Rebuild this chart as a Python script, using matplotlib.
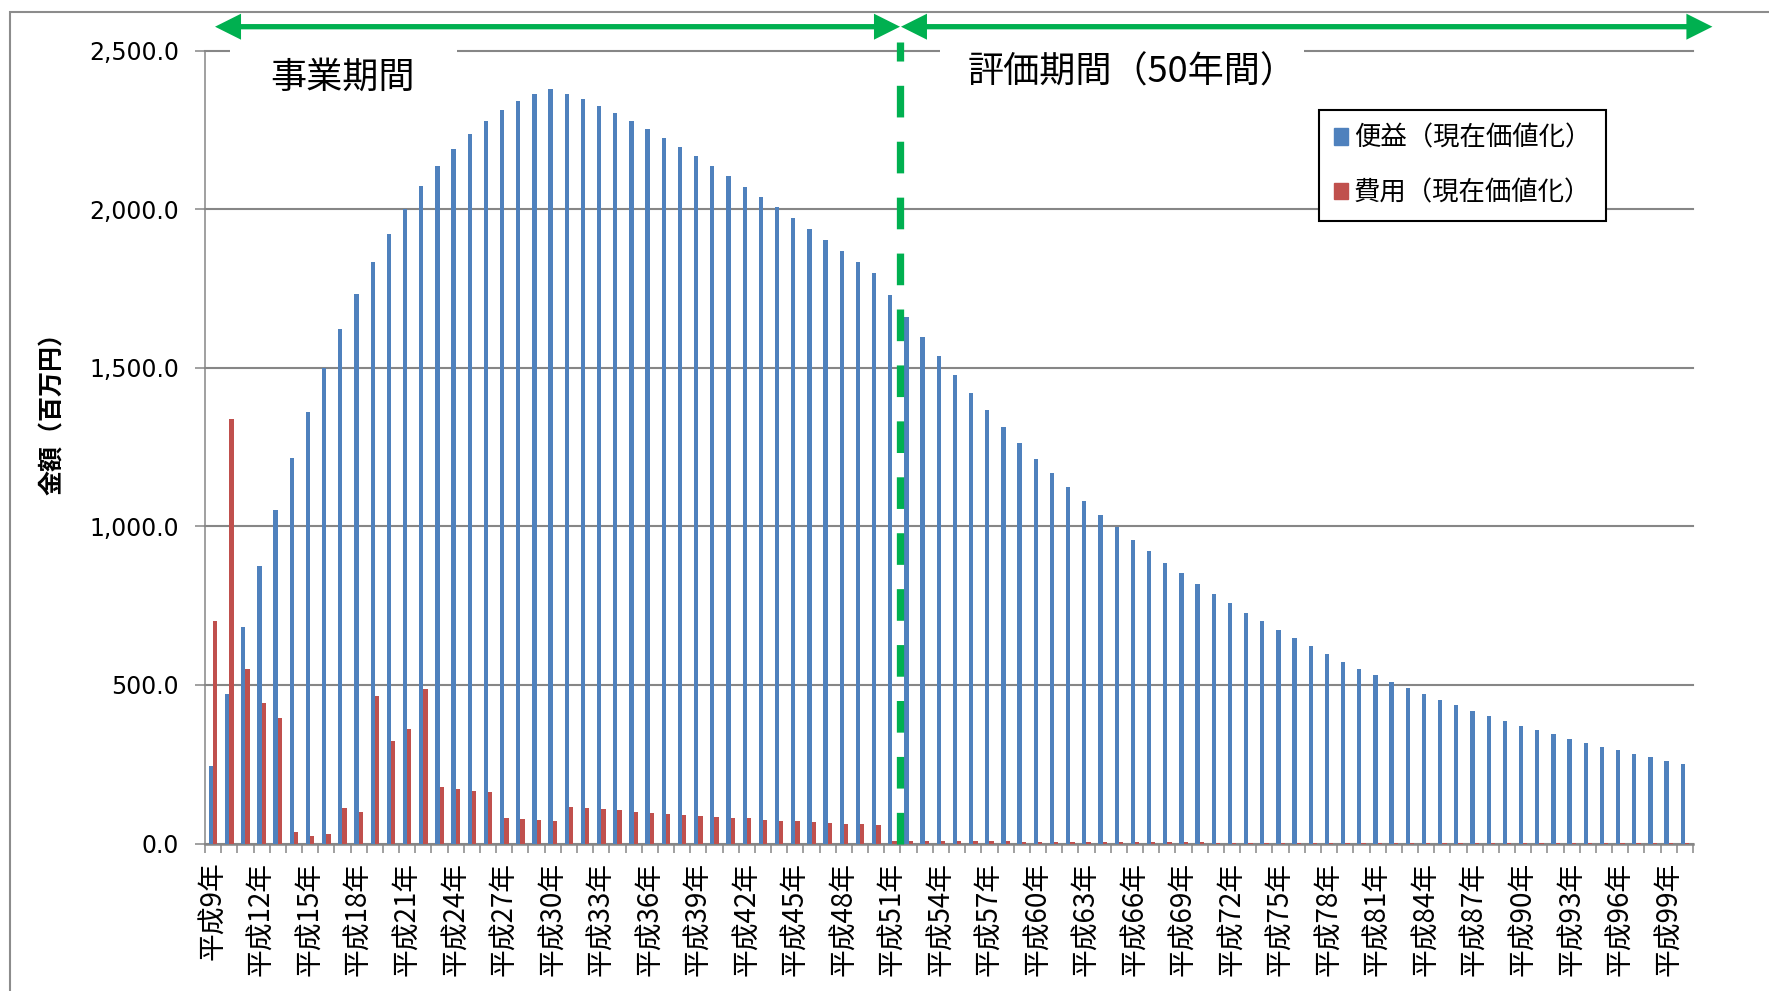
import matplotlib
matplotlib.use("Agg")
import matplotlib.pyplot as plt
from matplotlib.patches import Patch, Rectangle, Polygon
from matplotlib.font_manager import FontProperties
from matplotlib.ticker import FuncFormatter, MultipleLocator
import numpy as np

# ---- data (百万円, 現在価値化) ----
years = list(range(9, 101))
year_labels = [f"平成{y}年" for y in years]

benefit = [244, 471, 681, 875, 1051, 1214, 1361, 1498, 1621, 1732,
           1832, 1922, 2001, 2073, 2136, 2190, 2237, 2278, 2312, 2340,
           2364, 2380, 2364, 2346, 2324, 2302, 2277, 2252, 2223, 2195,
           2166, 2135, 2103, 2071, 2038, 2006, 1971, 1936, 1903, 1868,
           1833, 1799, 1729, 1661, 1598, 1536, 1478, 1421, 1366, 1313,
           1262, 1213, 1167, 1123, 1079, 1037, 997, 958, 921, 885,
           852, 819, 786, 757, 728, 700, 673, 648, 623, 597,
           573, 551, 530, 510, 490, 471, 452, 436, 418, 402,
           386, 371, 358, 344, 329, 317, 305, 294, 282, 272,
           261, 250]

cost = [701, 1337, 549, 442, 395, 35, 24, 30, 113, 99,
        466, 323, 360, 487, 179, 173, 166, 161, 80, 76,
        73, 71, 115, 111, 108, 105, 100, 96, 93, 90,
        86, 84, 81, 79, 74, 72, 70, 67, 64, 62,
        61, 57, 9, 9, 9, 8, 8, 7, 7, 7,
        6, 6, 6, 5, 5, 5, 5, 4, 4, 4,
        4, 4, 3, 3, 3, 3, 3, 3, 3, 3,
        2, 2, 2, 2, 2, 2, 2, 2, 2, 2,
        2, 2, 2, 2, 2, 2, 1, 1, 1, 1,
        1, 1]

series_labels = ["便益（現在価値化）", "費用（現在価値化）"]
y_label = "金額（百万円）"
period_labels = ["事業期間", "評価期間（50年間）"]
# period boundaries on the category axis: start, end of 事業期間, end of 評価期間
period_bounds = [0.12, 42.5, 92.7]

BLUE = "#4F81BD"
RED = "#C0504D"
GREEN = "#00B050"
GRID = "#868686"
CJK = ["Noto Sans CJK JP", "DejaVu Sans"]

W, H, DPI = 1769, 991, 100
fig = plt.figure(figsize=(W / DPI, H / DPI), dpi=DPI)


def fx(x):
    return x / W


def fy(y):
    return 1 - y / H


ax = fig.add_axes([fx(205), fy(843.5), 1488 / W, 793 / H])

x = np.arange(len(years))
bw = 0.265
ax.bar(x - bw / 2, benefit, bw, color=BLUE, zorder=3, linewidth=0)
ax.bar(x + bw / 2, cost, bw, color=RED, zorder=3, linewidth=0)

ax.set_xlim(-0.5, len(years) - 0.5)
ax.set_ylim(0, 2500)

# y axis
ax.yaxis.set_major_locator(MultipleLocator(500))
ax.yaxis.set_major_formatter(FuncFormatter(lambda v, p: f"{v:,.1f}"))
ax.tick_params(axis="y", which="major", length=7.2, width=1.1, color=GRID,
               pad=11.5, labelsize=17, labelcolor="black")
for lab in ax.get_yticklabels():
    lab.set_family("DejaVu Sans")
ax.grid(axis="y", color=GRID, linewidth=1.5, zorder=1)
ax.set_axisbelow(True)
for gl in ax.get_ygridlines():
    gl.set_clip_on(False)

# x axis: labels every third year, tick marks between categories
ax.set_xticks(x[::3])
ax.set_xticklabels(year_labels[::3], rotation=90, fontsize=20, family=CJK)
ax.set_xticks(np.arange(-0.5, len(years), 1), minor=True)
ax.tick_params(axis="x", which="major", length=0, pad=13)
ax.tick_params(axis="x", which="minor", length=6.5, width=1.1, color=GRID)

for side in ("top", "right"):
    ax.spines[side].set_visible(False)
ax.spines["bottom"].set_color(GRID)
ax.spines["bottom"].set_linewidth(1.8)
ax.spines["left"].set_color(GRID)
ax.spines["left"].set_linewidth(1.1)

ax.set_ylabel(y_label, fontsize=18, fontweight="bold", family=CJK)
ax.yaxis.set_label_coords(-0.094, 0.55)

# boundary between the two periods
ax.plot([period_bounds[1]] * 2, [0, 2528], color=GREEN, linewidth=5.25,
        linestyle=(0, (4.34, 3.33)), dash_capstyle="butt",
        clip_on=False, zorder=4)

# legend
leg = ax.legend(handles=[Patch(color=BLUE), Patch(color=RED)],
                labels=series_labels, loc="upper left",
                bbox_to_anchor=(fx(1319), fy(110)),
                bbox_transform=fig.transFigure, borderaxespad=0,
                prop=FontProperties(family=CJK, size=19),
                frameon=True, fancybox=False, framealpha=1,
                edgecolor="black", borderpad=0.55, handlelength=0.55,
                handleheight=0.6, handletextpad=0.22, labelspacing=1.05)
leg.get_frame().set_linewidth(1.5)

# outer frame of the chart area
fig.add_artist(Rectangle((fx(10), fy(1100)), (1900 - 10) / W, (1100 - 12) / H,
                         transform=fig.transFigure, fill=False,
                         edgecolor="#8C8C8C", linewidth=1.5, zorder=1))

# white backing under the period titles
for x0, x1 in ((230, 457), (940, 1304)):
    fig.add_artist(Rectangle((fx(x0), fy(100)), (x1 - x0) / W, 58 / H,
                             transform=fig.transFigure, facecolor="white",
                             edgecolor="none", zorder=2))

fig.text(fx(343), fy(78), period_labels[0], fontsize=26, family=CJK,
         ha="center", va="center", zorder=3)
fig.text(fx(968), fy(73), period_labels[1], fontsize=26, family=CJK,
         ha="left", va="center", zorder=3)

# double-headed period arrows
fig.canvas.draw()
ypx = H - 26.7
xs = [ax.transData.transform((b, 0))[0] for b in period_bounds]


def double_arrow(x0, x1, y, shaft=5.3, hl=26.0, hh=13.0):
    s = shaft / 2
    pts = [(x0, y), (x0 + hl, y + hh), (x0 + hl, y + s), (x1 - hl, y + s),
           (x1 - hl, y + hh), (x1, y), (x1 - hl, y - hh), (x1 - hl, y - s),
           (x0 + hl, y - s), (x0 + hl, y - hh)]
    pts = [(px / W, py / H) for px, py in pts]
    fig.add_artist(Polygon(pts, closed=True, transform=fig.transFigure,
                           facecolor=GREEN, edgecolor="none", zorder=5))


double_arrow(xs[0], xs[1] - 0.5, ypx)
double_arrow(xs[1] + 0.5, xs[2], ypx)

fig.savefig("out.png", dpi=DPI, facecolor="white")
